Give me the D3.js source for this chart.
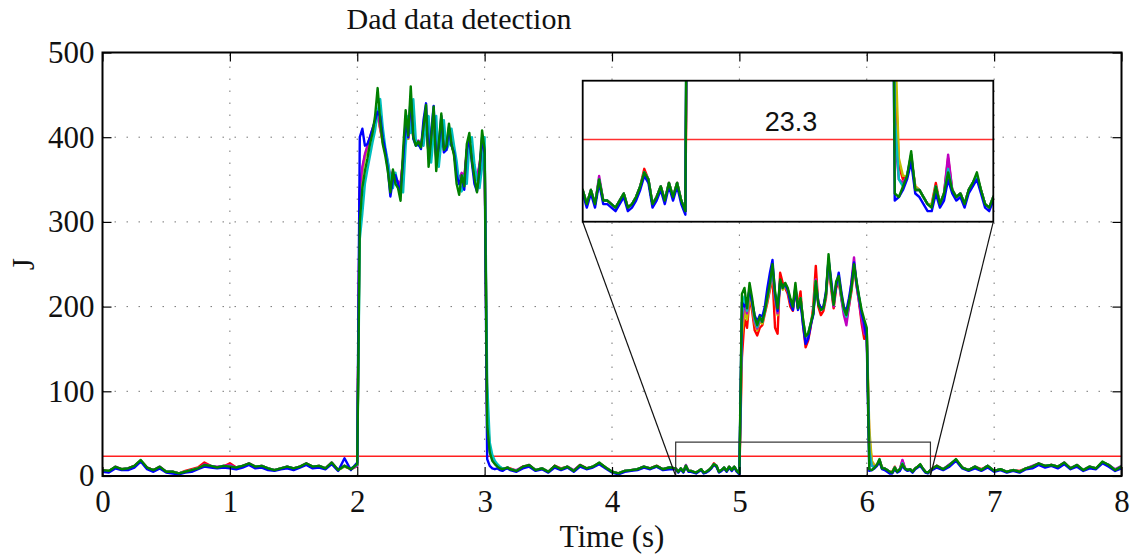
<!DOCTYPE html>
<html>
<head>
<meta charset="utf-8">
<script src="https://cdn.jsdelivr.net/npm/d3@7"></script>
<style>
  html, body { margin: 0; padding: 0; background: #fff; }
  svg { display: block; }
</style>
</head>
<body>
<svg id="chart" width="1139" height="558"></svg>
<script>
// ---- sampling: each run is stored in five segments, each with its own sample step (s)
const segmentStarts = [0, 2.0, 3.2, 4.5, 6.5];
const segmentSteps  = [0.05, 0.02, 0.05, 0.02, 0.05];

const xTicks = [0, 1, 2, 3, 4, 5, 6, 7, 8];
const yTicks = [0, 100, 200, 300, 400, 500];
const threshold = 23.3;
const zoomT = [4.5, 6.5];
const zoomJ = [0, 40];

// ---- detection statistic J for each run, per segment
const blueA = [5,4,9,7,7,10,17,8,5,9,4,3,2,4,5,8,11,10,9,10,9,8,10,13,9,10,7,6,8,9,7,10,13,9,10,8,14,6,21,7];
const blueB = [16,400,410,390,392,400,410,420,430,425,
               400,385,362,330,350,355,345,335,372,420,
               400,448,398,390,392,386,420,440,375,405,
               437,372,388,425,382,385,412,390,382,355,
               345,352,338,385,398,370,345,336,360,400,
               380,20,12,9,8,9,7,6,8,9];
const blueC = [7,5,9,11,6,8,4,10,7,10,5,11,8,10,14,9,4,2,5,6,7,10,8,11,7,8];
const blueD = [8,4,8,4,11,5,5,4,3,5,
               7,3,4,6,9,13,11,4,6,9,
               5,10,6,10,5,2,205,200,205,220,
               205,190,182,190,188,200,222,240,255,215,
               195,228,225,226,220,205,196,222,196,205,
               178,156,162,178,190,225,205,198,200,218,
               255,232,205,225,240,218,200,195,210,228,
               252,228,210,192,180,160,6,7,9,12,
               17,8,7,5,3,3,8,4,6,12,
               8,6,7,4,8,10,12,8,4,3];
const blueE = [6,10,7,11,18,9,6,9,6,10,5,7,4,6,4,8,9,13,10,12,9,14,8,11,6,9,8,15,11,6,9];

const greenA = [7,6,11,8,9,12,19,10,7,11,5,5,3,5,7,9,13,12,10,12,11,10,12,15,11,12,9,7,9,11,9,11,15,11,12,9,16,7,12,8];
const greenB = [14,300,340,360,375,392,405,425,458,420,
                392,378,360,335,362,345,340,325,385,432,
                402,460,400,390,395,388,412,438,365,398,
                436,360,392,428,385,390,416,392,378,345,
                332,355,342,392,405,372,352,335,362,408,
                385,60,28,18,14,11,9,8,9,10];
const greenC = [8,6,11,13,7,9,5,12,8,11,6,13,9,11,16,10,5,3,6,7,8,11,9,12,8,10];
const greenD = [9,5,9,5,12,6,6,5,4,6,
                8,4,5,7,10,14,12,5,7,10,
                6,11,7,11,6,3,215,222,198,228,
                210,188,178,188,182,195,212,228,250,218,
                198,232,222,228,222,210,200,228,198,210,
                185,165,168,180,192,230,202,196,198,215,
                262,228,202,230,236,215,198,190,205,222,
                250,230,212,196,185,175,8,7,10,13,
                20,9,9,7,5,4,10,5,8,14,
                9,7,8,5,9,11,14,9,5,4];
const greenE = [7,12,8,13,20,10,7,11,7,12,6,8,5,7,5,9,11,15,12,13,11,16,9,13,7,11,9,17,13,7,11];

const redA = [7,6,10,8,9,12,18,10,7,10,5,5,3,6,8,10,16,12,10,11,15,10,12,14,11,12,9,7,9,11,9,11,14,11,12,9,15,7,12,8];
const redB = [12,335,362,378,388,398,408,416,428,410,
              395,383,368,350,358,350,346,343,373,410,
              398,428,400,393,394,390,402,418,380,396,
              415,376,390,410,388,390,402,391,381,360,
              348,356,350,382,392,376,360,350,366,390,
              386,75,32,21,16,12,10,9,9,10];
const redC = [9,6,11,12,7,9,5,12,9,11,6,13,9,11,15,10,5,3,6,7,8,11,9,12,8,10];
const redD = [9,5,9,5,12,6,6,5,4,6,
              8,4,5,7,10,15,12,5,7,10,
              6,11,7,11,6,3,140,185,175,210,
              195,172,166,175,178,192,205,220,235,175,
              168,240,228,222,215,200,195,218,200,218,
              178,152,160,176,200,248,200,190,195,210,
              250,222,198,222,230,210,195,185,200,218,
              245,225,205,180,162,165,45,16,12,13,
              18,10,9,7,5,5,11,5,8,18,
              9,7,8,5,9,11,13,9,5,4];
const redE = [7,12,8,13,19,10,7,11,8,12,6,8,5,7,6,9,11,14,12,13,11,15,9,13,7,11,9,16,13,7,11];

const cyanA = [6,6,10,8,9,11,18,9,7,10,5,5,3,5,7,9,12,12,10,12,11,10,12,14,11,12,9,7,9,11,9,11,14,11,12,9,15,7,12,9];
const cyanB = [13,280,310,345,362,378,394,408,430,445,
               412,388,372,352,340,358,342,336,335,390,
               425,405,445,396,390,394,390,415,425,370,
               402,425,365,395,420,385,392,410,390,372,
               345,336,355,345,392,400,368,350,340,365,
               400,110,40,25,18,14,11,9,9,10];
const cyanC = [8,6,10,12,7,9,5,11,8,11,6,12,9,11,15,10,5,3,6,7,8,11,9,11,8,10];
const cyanD = [9,5,9,5,12,6,6,5,4,6,
               8,4,5,7,10,14,12,5,7,10,
               6,11,7,11,6,3,190,212,195,222,
               206,185,176,186,182,195,210,226,246,214,
               196,230,222,226,220,208,199,224,198,210,
               184,164,168,180,192,230,203,196,198,214,
               256,228,202,228,234,213,196,188,204,222,
               250,228,210,192,180,172,30,12,10,13,
               19,9,9,7,5,4,10,5,8,15,
               9,7,8,5,9,11,13,9,5,4];
const cyanE = [7,11,8,13,19,10,7,11,7,12,6,8,5,7,5,9,11,14,12,13,11,15,9,13,7,11,9,16,13,7,11];

const magentaA = [7,5,11,8,9,12,18,10,7,11,5,5,3,5,7,9,14,12,11,12,13,10,12,15,11,12,9,7,9,11,9,11,15,11,12,9,16,7,12,8];
const magentaB = [12,340,365,380,390,400,410,418,430,412,
                  396,384,370,352,360,352,348,345,375,412,
                  400,432,402,395,396,392,405,420,382,398,
                  418,378,392,412,390,392,405,393,383,362,
                  350,358,352,385,395,378,362,352,368,392,
                  388,70,30,20,15,12,10,9,9,10];
const magentaC = [8,7,11,13,7,9,5,12,8,11,7,13,9,11,15,10,5,3,6,7,8,11,9,12,8,10];
const magentaD = [9,5,9,5,13,6,6,5,4,6,
                  8,4,5,7,10,14,12,5,7,10,
                  6,11,7,11,6,3,180,205,192,218,
                  205,182,174,184,182,195,210,225,242,210,
                  192,230,222,225,218,206,198,222,198,210,
                  182,162,166,178,192,232,205,196,198,214,
                  252,226,200,226,232,210,190,178,200,230,
                  258,225,205,185,168,170,25,12,11,13,
                  19,9,9,7,5,4,10,5,8,19,
                  9,7,8,5,9,11,13,9,5,4];
const magentaE = [7,12,8,14,19,10,7,11,7,12,6,8,5,7,5,9,12,15,12,13,11,16,9,13,7,11,9,16,13,8,12];

const yellowA = [7,6,10,8,9,11,18,10,7,10,5,5,3,5,7,9,12,11,10,12,11,10,12,14,11,11,9,7,9,10,9,11,14,11,12,9,15,7,11,8];
const yellowB = [12,330,360,376,386,396,406,415,426,410,
                 394,382,367,350,357,350,345,342,372,408,
                 398,425,400,393,394,390,402,416,380,396,
                 414,376,390,408,388,390,401,391,381,360,
                 349,356,350,381,391,376,360,350,365,389,
                 385,80,34,22,16,12,10,9,9,10];
const yellowC = [8,6,11,12,7,9,5,12,8,11,6,12,9,11,15,10,5,3,6,7,8,10,9,12,8,10];
const yellowD = [9,5,9,5,12,6,6,5,4,6,
                 8,4,5,7,10,14,12,5,7,10,
                 6,11,7,11,6,3,165,195,185,214,
                 200,180,172,182,180,194,208,222,240,208,
                 190,228,220,224,218,205,202,220,200,210,
                 184,164,168,180,194,232,204,198,200,214,
                 250,226,204,226,232,212,198,190,204,222,
                 246,226,208,192,178,172,55,18,13,13,
                 18,10,9,7,5,5,10,5,8,15,
                 9,7,8,5,9,11,13,9,5,4];
const yellowE = [7,12,8,13,19,10,7,11,7,11,6,8,5,7,5,9,11,14,12,13,11,15,9,12,7,11,9,16,12,7,11];

// drawing order: last one ends up on top
const runs = [
  { color: "#ff0000", parts: [redA, redB, redC, redD, redE] },
  { color: "#bfbf00", parts: [yellowA, yellowB, yellowC, yellowD, yellowE] },
  { color: "#bf00bf", parts: [magentaA, magentaB, magentaC, magentaD, magentaE] },
  { color: "#00bfbf", parts: [cyanA, cyanB, cyanC, cyanD, cyanE] },
  { color: "#0000ff", parts: [blueA, blueB, blueC, blueD, blueE] },
  { color: "#008000", parts: [greenA, greenB, greenC, greenD, greenE] }
];

function toPoints(parts) {
  const pts = [];
  parts.forEach((vals, k) => {
    vals.forEach((v, i) => pts.push({ t: segmentStarts[k] + i * segmentSteps[k], v }));
  });
  return pts;
}
const runPoints = runs.map(r => ({ color: r.color, pts: toPoints(r.parts) }));

// ---- layout
const svg = d3.select("#chart");
const serif = "'Liberation Serif', 'Times New Roman', serif";
const sans = "'Liberation Sans', Arial, Helvetica, sans-serif";

const pL = 102.5, pR = 1121.5, pT = 52.5, pB = 476;
const x = d3.scaleLinear().domain([0, 8]).range([pL, pR]);
const y = d3.scaleLinear().domain([0, 500]).range([pB, pT]);
const traceWidth = 2.4;

svg.append("rect").attr("width", 1139).attr("height", 558).attr("fill", "#fff");

const defs = svg.append("defs");
defs.append("clipPath").attr("id", "mainClip")
  .append("rect").attr("x", pL).attr("y", pT).attr("width", pR - pL).attr("height", pB - pT);

// dotted grid
const grid = svg.append("g").attr("stroke", "#777").attr("stroke-width", 1).attr("stroke-dasharray", "1.5,10.5");
grid.selectAll("line.gx").data(xTicks.slice(1, -1)).join("line").attr("class", "gx")
  .attr("x1", d => x(d)).attr("x2", d => x(d)).attr("y1", pB).attr("y2", pT);
grid.selectAll("line.gy").data(yTicks.slice(1, -1)).join("line").attr("class", "gy")
  .attr("y1", d => y(d)).attr("y2", d => y(d)).attr("x1", pL).attr("x2", pR);

// threshold
svg.append("line")
  .attr("x1", pL).attr("x2", pR).attr("y1", y(threshold)).attr("y2", y(threshold))
  .attr("stroke", "#ff2020").attr("stroke-width", 1.5);

// runs
const line = d3.line().x(d => x(d.t)).y(d => y(d.v));
svg.append("g").attr("clip-path", "url(#mainClip)")
  .selectAll("path").data(runPoints).join("path")
  .attr("d", d => line(d.pts))
  .attr("fill", "none").attr("stroke", d => d.color)
  .attr("stroke-width", traceWidth).attr("stroke-linejoin", "round");

// zoom window marker
svg.append("rect")
  .attr("x", x(zoomT[0])).attr("y", y(zoomJ[1]))
  .attr("width", x(zoomT[1]) - x(zoomT[0])).attr("height", y(zoomJ[0]) - y(zoomJ[1]))
  .attr("fill", "none").attr("stroke", "#333").attr("stroke-width", 1.2);

// inset
const iL = 582.7, iR = 993.3, iT = 80.7, iB = 221.7;
const xi = d3.scaleLinear().domain(zoomT).range([iL, iR]);
const yi = d3.scaleLinear().domain(zoomJ).range([iB, iT]);

// connectors from the marker to the inset
svg.append("g").attr("stroke", "#111").attr("stroke-width", 1.2)
  .selectAll("line").data(zoomT).join("line")
  .attr("x1", d => xi(d)).attr("y1", yi(zoomJ[0]))
  .attr("x2", d => x(d)).attr("y2", y(zoomJ[0]));

defs.append("clipPath").attr("id", "insetClip")
  .append("rect").attr("x", iL).attr("y", iT).attr("width", iR - iL).attr("height", iB - iT);

const inset = svg.append("g");
inset.append("rect").attr("x", iL).attr("y", iT).attr("width", iR - iL).attr("height", iB - iT).attr("fill", "#fff");
inset.append("line")
  .attr("x1", iL).attr("x2", iR).attr("y1", yi(threshold)).attr("y2", yi(threshold))
  .attr("stroke", "#ff3030").attr("stroke-width", 1.5);
const lineI = d3.line().x(d => xi(d.t)).y(d => yi(d.v));
inset.append("g").attr("clip-path", "url(#insetClip)")
  .selectAll("path").data(runPoints).join("path")
  .attr("d", d => lineI(d.pts.filter(p => p.t >= zoomT[0] - 0.05 && p.t <= zoomT[1] + 0.05)))
  .attr("fill", "none").attr("stroke", d => d.color)
  .attr("stroke-width", traceWidth).attr("stroke-linejoin", "round");
inset.append("text")
  .attr("x", (iL + iR) / 2 + 3).attr("y", 130.5)
  .attr("text-anchor", "middle").attr("font-family", sans).attr("font-size", 27)
  .attr("fill", "#111").text(threshold.toFixed(1));
inset.append("rect").attr("x", iL).attr("y", iT).attr("width", iR - iL).attr("height", iB - iT)
  .attr("fill", "none").attr("stroke", "#000").attr("stroke-width", 1.8);

// axes box and inward ticks
const fontSize = 31;
const gx = svg.append("g").attr("transform", `translate(0,${pB})`)
  .call(d3.axisBottom(x).tickValues(xTicks).tickFormat(d3.format("d")).tickSize(-9).tickSizeOuter(0).tickPadding(14));
const gxTop = svg.append("g").attr("transform", `translate(0,${pT})`)
  .call(d3.axisTop(x).tickValues(xTicks).tickFormat("").tickSize(-9).tickSizeOuter(0));
const gy = svg.append("g").attr("transform", `translate(${pL},0)`)
  .call(d3.axisLeft(y).tickValues(yTicks).tickFormat(d3.format("d")).tickSize(-9).tickSizeOuter(0).tickPadding(8));
const gyR = svg.append("g").attr("transform", `translate(${pR},0)`)
  .call(d3.axisRight(y).tickValues(yTicks).tickFormat("").tickSize(-9).tickSizeOuter(0));

[gx, gxTop, gy, gyR].forEach(g => {
  g.select(".domain").remove();
  g.selectAll(".tick line").attr("stroke", "#000").attr("stroke-width", 1.2);
  g.selectAll("text").attr("font-family", serif).attr("font-size", fontSize).attr("fill", "#111");
});

svg.append("rect").attr("x", pL).attr("y", pT).attr("width", pR - pL).attr("height", pB - pT)
  .attr("fill", "none").attr("stroke", "#000").attr("stroke-width", 2);

// labels
svg.append("text").attr("x", 459).attr("y", 29).attr("text-anchor", "middle")
  .attr("font-family", serif).attr("font-size", 30).attr("fill", "#111").text("Dad data detection");
svg.append("text").attr("x", (pL + pR) / 2).attr("y", 547).attr("text-anchor", "middle")
  .attr("font-family", serif).attr("font-size", fontSize).attr("fill", "#111").text("Time (s)");
svg.append("text").attr("transform", `translate(34,${(pT + pB) / 2}) rotate(-90)`)
  .attr("text-anchor", "middle").attr("font-family", serif).attr("font-size", fontSize)
  .attr("fill", "#111").text("J");
</script>
</body>
</html>
